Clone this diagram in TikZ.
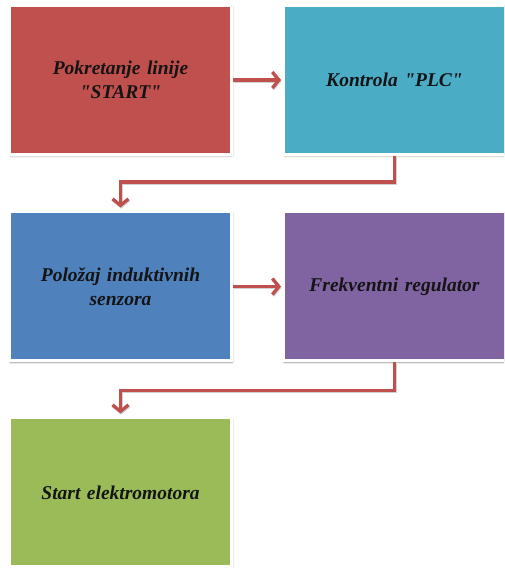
\documentclass[tikz,border=0pt]{standalone}
\usepackage{fontspec}
\setmainfont{Liberation Serif}[Ligatures=TeXOff]
\usetikzlibrary{arrows.meta,shadows.blur}
\definecolor{cRed}{HTML}{C0504D}
\definecolor{cTeal}{HTML}{4BACC6}
\definecolor{cBlue}{HTML}{4F81BD}
\definecolor{cPurple}{HTML}{8064A2}
\definecolor{cGreen}{HTML}{9BBB59}
\definecolor{cArrow}{HTML}{C0504D}
\begin{document}
\begin{tikzpicture}[x=1pt,y=1pt,
  block/.style={draw=white, line width=3pt, minimum width=222pt, minimum height=149pt,
    align=center, text width=205pt, font=\fontsize{19.5}{23.5}\selectfont\bfseries\itshape,
    text=black!92,
    blur shadow={shadow xshift=0.6pt, shadow yshift=-1.2pt, shadow blur radius=2.2pt,
      shadow blur steps=6, shadow opacity=45}},
  conn/.style={draw=cArrow, line width=3.3pt,
    -{Straight Barb[length=6.5pt,width=16pt,line width=3.3pt]}},
  connshade/.style={draw=black!18, line width=3.3pt,
    -{Straight Barb[length=6.5pt,width=16pt,line width=3.3pt]}},
]
\useasboundingbox (0,0) rectangle (504,568);
\clip (0,0) rectangle (504,568);
\node[block, fill=cRed]    (b1) at (120.5,488) {Pokretanje linije\\"START"};
\node[block, fill=cTeal]   (b2) at (394.5,488) {Kontrola "PLC"};
\node[block, fill=cBlue]   (b3) at (120.5,281.5) {Položaj induktivnih\\senzora};
\node[block, fill=cPurple] (b4) at (394.5,281.5) {Frekventni regulator};
\node[block, fill=cGreen]  (b5) at (120.5,75.5) {Start elektromotora};

% faint shadows under the connectors
\begin{scope}[transform canvas={xshift=0.6pt,yshift=-1.2pt}]
  \draw[connshade, shorten >=1pt] (b1.east) -- (b2.west);
  \draw[connshade, shorten >=1pt] (b3.east) -- (b4.west);
  \draw[connshade, shorten >=3pt] (b2.south) -- ++(0,-26) -| (b3.north);
  \draw[connshade, shorten >=3pt] (b4.south) -- ++(0,-28) -| (b5.north);
\end{scope}
\draw[conn, shorten >=1pt] (b1.east) -- (b2.west);
\draw[conn, shorten >=1pt] (b3.east) -- (b4.west);
\draw[conn, shorten >=3pt] (b2.south) -- ++(0,-26) -| (b3.north);
\draw[conn, shorten >=3pt] (b4.south) -- ++(0,-28) -| (b5.north);
\end{tikzpicture}
\end{document}
